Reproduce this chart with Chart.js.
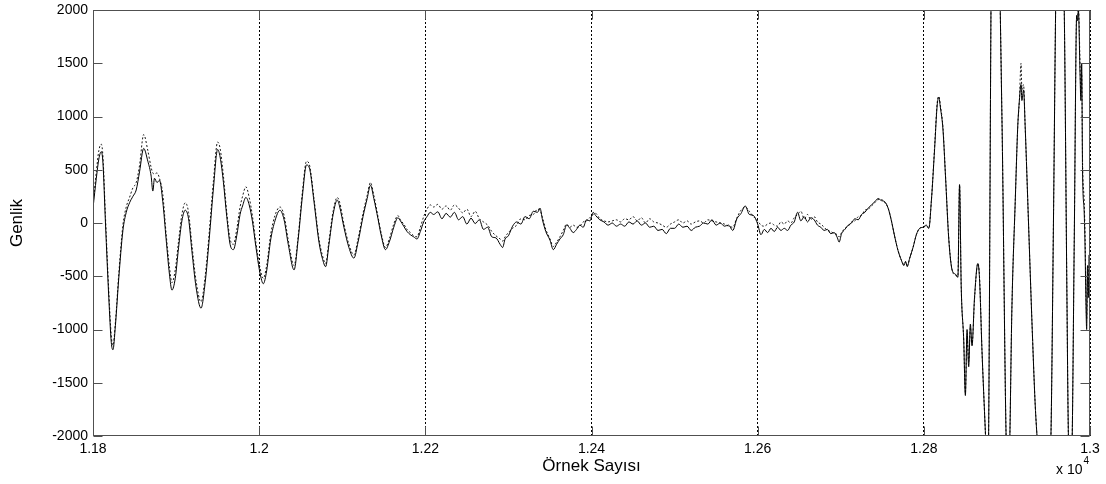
<!DOCTYPE html>
<html lang="tr">
<head>
<meta charset="utf-8">
<title>Genlik – Örnek Sayısı</title>
<script src="https://cdn.jsdelivr.net/npm/chart.js@4.4.1/dist/chart.umd.min.js"></script>
<style>
  html, body { margin: 0; padding: 0; background: #fff; }
  #wrap { width: 1106px; height: 484px; }
</style>
</head>
<body>
<div id="wrap"><canvas id="c" width="1106" height="484"></canvas></div>
<script>
// Sample positions (x axis) shared by both recordings
const samples = [
  11800, 11804, 11807, 11810, 11812, 11815, 11819, 11822, 11824, 11827,
  11831, 11836, 11840, 11844, 11848, 11852, 11856, 11861, 11866, 11870,
  11872, 11874, 11877, 11880, 11884, 11888, 11892, 11895, 11899, 11903,
  11907, 11911, 11915, 11919, 11924, 11930, 11935, 11940, 11945, 11950,
  11953, 11957, 11961, 11965, 11969, 11973, 11977, 11980, 11984, 11988,
  11992, 11996, 12001, 12005, 12009, 12014, 12019, 12025, 12030, 12035,
  12042, 12047, 12052, 12057, 12061, 12066, 12072, 12076, 12080, 12084,
  12089, 12094, 12097, 12102, 12108, 12114, 12119, 12125, 12130, 12134,
  12138, 12143, 12147, 12152, 12157, 12162, 12167, 12170, 12174, 12178,
  12182, 12186, 12190, 12194, 12198, 12202, 12206, 12210, 12215, 12220,
  12225, 12230, 12235, 12240, 12245, 12250, 12255, 12260, 12265, 12270,
  12275, 12280, 12285, 12290, 12293, 12296, 12300, 12305, 12310, 12315,
  12320, 12325, 12330, 12335, 12338, 12341, 12345, 12350, 12354, 12358,
  12362, 12366, 12370, 12374, 12378, 12382, 12386, 12390, 12394, 12398,
  12402, 12405, 12410, 12415, 12420, 12425, 12430, 12435, 12440, 12445,
  12450, 12455, 12460, 12465, 12470, 12475, 12480, 12485, 12490, 12495,
  12500, 12505, 12510, 12515, 12520, 12525, 12530, 12535, 12540, 12545,
  12550, 12555, 12560, 12565, 12570, 12575, 12580, 12585, 12590, 12595,
  12600, 12604, 12608, 12612, 12616, 12620, 12624, 12628, 12632, 12636,
  12640, 12644, 12648, 12652, 12656, 12660, 12664, 12668, 12672, 12676,
  12680, 12684, 12688, 12692, 12696, 12698, 12701, 12705, 12709, 12713,
  12717, 12721, 12725, 12729, 12733, 12737, 12741, 12745, 12749, 12753,
  12757, 12761, 12765, 12769, 12773, 12776, 12778, 12780, 12783, 12787,
  12791, 12795, 12799, 12803, 12806, 12809, 12813, 12816, 12818, 12820,
  12823, 12826, 12830, 12834, 12838, 12841, 12843, 12845, 12848, 12850,
  12852, 12854, 12856, 12858, 12861, 12865, 12867, 12870, 12874, 12877,
  12882, 12887, 12894, 12899, 12901, 12903, 12906, 12910, 12913, 12915,
  12917, 12918, 12920, 12922, 12926, 12930, 12934, 12937, 12942, 12948,
  12953, 12956, 12959, 12963, 12967, 12969, 12972, 12974, 12976, 12978,
  12981, 12984, 12985, 12986, 12988, 12989, 12990, 12991, 12993, 12994,
  12995, 12996, 12997, 12998, 12999, 13000
];

// Amplitude of the first recording (solid line)
const signalSolid = [
  140, 420, 600, 670, 560, 0, -700, -1120, -1190, -960,
  -520, -70, 100, 190, 250, 310, 480, 700, 580, 440,
  300, 420, 380, 400, 200, -150, -480, -630, -520, -230,
  20, 120, 40, -260, -600, -800, -560, -140, 330, 690,
  620, 380, 60, -200, -250, -120, 80, 160, 240, 170,
  10, -220, -470, -570, -450, -150, 20, 120, 30, -200,
  -440, -150, 250, 545, 500, 200, -180, -330, -410, -200,
  80, 215, 150, -40, -230, -330, -180, 60, 230, 355,
  230, 40, -120, -250, -170, -40, 50, 20, -30, -80,
  -110, -130, -150, -80, 10, 60, 100, 80, 105, 40,
  90, 55, 100, 30, 60, -10, 45, -5, 30, -60,
  -40, -130, -140, -200, -230, -150, -120, -30, 10, -10,
  60, 40, 110, 100, 140, 30, -80, -160, -250, -200,
  -150, -110, -20, -50, -90, -60, -20, -40, 30, 20,
  100, 70, 30, 10, -20, 0, -30, -10, -30, 10,
  -10, 20, -20, 0, -40, -30, -70, -60, -100, -50,
  -50, -10, -40, -30, -70, -40, -30, 0, -10, 30,
  -20, 0, -30, -20, -70, 40, 90, 160, 80, 70,
  -10, -110, -60, -90, -50, -80, -40, -70, -50, -70,
  -20, 10, 100, 20, 60, 10, 50, 30, -20, -40,
  -70, -60, -100, -90, -140, -180, -100, -60, -20, 0,
  40, 30, 80, 100, 140, 170, 200, 230, 210, 200,
  140, 20, -130, -260, -350, -400, -360, -410, -330, -230,
  -110, -50, -40, -20, -50, 200, 700, 1100, 1180, 1080,
  880, 450, -150, -440, -480, -510, 360, -600, -1100, -1620,
  -1000, -1350, -950, -1150, -700, -380, -520, -1200, -1950, -2500,
  3000, 3500, 1000, -2000, -2400, -2200, -800, 200, 900, 1150,
  1300, 1150, 1250, 900, 0, -900, -1700, -2100, -2800, -2700,
  -2000, 0, 2200, 3200, 2400, 2000, -500, -2000, -2300, -2200,
  -200, 1950, 1900, 2000, 1400, 1150, 1500, 500, 100, -200,
  -700, -1000, -400, -700, -300, -600
];

// Amplitude of the second recording (dashed line)
const signalDashed = [
  180, 480, 680, 740, 620, 60, -640, -1060, -1150, -930,
  -480, -20, 150, 240, 330, 380, 540, 830, 680, 520,
  470, 460, 470, 420, 270, -100, -410, -560, -440, -170,
  80, 190, 100, -200, -540, -740, -500, -80, 400, 760,
  700, 440, 100, -150, -200, -60, 150, 250, 340, 240,
  60, -180, -420, -520, -400, -100, 70, 150, 70, -160,
  -400, -120, 290, 580, 530, 230, -150, -300, -380, -170,
  110, 240, 190, -10, -200, -300, -150, 90, 260, 380,
  260, 60, -100, -230, -140, -10, 70, 30, -10, -60,
  -90, -120, -130, -40, 60, 130, 170, 150, 175, 130,
  160, 120, 170, 140, 95, 130, 60, 110, 40, 10,
  -20, -80, -120, -150, -170, -130, -90, -50, -20, 40,
  30, 70, 80, 130, 120, 50, -60, -150, -220, -180,
  -130, -70, -10, -40, -20, -40, -30, 10, 20, 50,
  80, 90, 40, 20, 10, 20, 30, 10, 40, 30,
  60, 20, 50, 0, 40, 10, 0, -20, -40, -10,
  10, 30, 0, 20, -10, 10, 20, 0, 30, 20,
  10, 0, -10, -30, -40, 50, 120, 150, 110, 60,
  20, -20, -30, -10, 0, -20, -30, 10, -10, 20,
  0, 50, 80, 110, 40, 80, 30, 60, 10, -10,
  -40, -70, -80, -100, -110, -130, -90, -50, -30, 10,
  20, 60, 70, 120, 130, 160, 190, 220, 220, 190,
  140, 20, -130, -260, -350, -390, -370, -400, -330, -230,
  -110, -50, -40, -30, -50, 200, 720, 1120, 1190, 1100,
  900, 460, -140, -440, -490, -500, 360, -600, -1100, -1600,
  -1050, -1300, -980, -1150, -720, -380, -500, -1200, -1950, -2500,
  3000, 3500, 1000, -2000, -2400, -2200, -800, 200, 900, 1150,
  1500, 1250, 1300, 900, 0, -900, -1700, -2100, -2800, -2700,
  -2000, 0, 2200, 3200, 2400, 2000, -500, -2000, -2300, -2200,
  -200, 1950, 1950, 2050, 1500, 1200, 1400, 600, 200, -100,
  -600, -900, -500, -600, -400, -500
];

// Axis ranges and tick spacing
const xRange = [11800, 13000];
const xStep = 200;
const yRange = [-2000, 2000];
const yStep = 500;
const xExponent = 4;

const FONT = '"Liberation Sans", Arial, Helvetica, sans-serif';

const toPoints = (ys) => samples.map((s, i) => ({ x: s, y: ys[i] }));

// White page, plot frame, inward ticks on all sides and the x-axis multiplier
const framePlugin = {
  id: 'frame',
  beforeDraw(chart) {
    const ctx = chart.ctx;
    ctx.save();
    ctx.fillStyle = '#ffffff';
    ctx.fillRect(0, 0, chart.width, chart.height);
    ctx.restore();
  },
  afterDraw(chart) {
    const { ctx, chartArea: a, scales } = chart;
    const x = scales.x, y = scales.y;
    const L = Math.round(a.left) + 0.5, R = Math.round(a.right) - 0.5;
    const T = Math.round(a.top) + 0.5, B = Math.round(a.bottom) - 0.5;
    const tl = 9;
    ctx.save();
    ctx.strokeStyle = '#505050';
    ctx.lineWidth = 1;
    ctx.setLineDash([]);
    ctx.beginPath();
    y.ticks.forEach(t => {
      const py = Math.round(y.getPixelForValue(t.value)) + 0.5;
      ctx.moveTo(L, py); ctx.lineTo(L + tl, py);
      ctx.moveTo(R, py); ctx.lineTo(R - tl, py);
    });
    x.ticks.forEach(t => {
      const px = Math.round(x.getPixelForValue(t.value)) + 0.5;
      ctx.moveTo(px, B); ctx.lineTo(px, B - tl);
      ctx.moveTo(px, T); ctx.lineTo(px, T + tl);
    });
    ctx.stroke();
    ctx.strokeRect(L, T, R - L, B - T);

    ctx.fillStyle = '#000';
    ctx.textBaseline = 'alphabetic';
    ctx.font = '14px ' + FONT;
    ctx.textAlign = 'right';
    ctx.fillText('x 10', R - 7, 474);
    ctx.font = '10px ' + FONT;
    ctx.textAlign = 'left';
    ctx.fillText(String(xExponent), R - 6, 464);
    ctx.restore();
  }
};

new Chart(document.getElementById('c'), {
  type: 'line',
  data: {
    datasets: [
      {
        label: 'Kayıt 1',
        data: toPoints(signalSolid),
        borderColor: '#000000',
        borderWidth: 1,
        pointRadius: 0,
        cubicInterpolationMode: 'monotone',
        order: 0
      },
      {
        label: 'Kayıt 2',
        data: toPoints(signalDashed),
        borderColor: '#1a1a1a',
        borderWidth: 1,
        borderDash: [2, 2],
        pointRadius: 0,
        cubicInterpolationMode: 'monotone',
        order: 1
      }
    ]
  },
  options: {
    responsive: false,
    animation: false,
    layout: { padding: { top: 10, right: 16, left: 0, bottom: 0 } },
    plugins: {
      legend: { display: false },
      tooltip: { enabled: false }
    },
    scales: {
      x: {
        type: 'linear',
        min: xRange[0],
        max: xRange[1],
        afterFit(s) { s.height = 48; s.paddingLeft = 0; s.paddingRight = 0; },
        grid: {
          display: true,
          color: '#000000',
          lineWidth: 1,
          drawTicks: false
        },
        border: { display: false, dash: [2, 2] },
        ticks: {
          stepSize: xStep,
          autoSkip: false,
          maxRotation: 0,
          padding: 5,
          color: '#000',
          font: { family: FONT, size: 14 },
          callback: v => String(+(v / Math.pow(10, xExponent)).toFixed(2))
        },
        title: {
          display: true,
          text: 'Örnek Sayısı',
          color: '#000',
          font: { family: FONT, size: 17 },
          padding: { top: 0, bottom: 7 }
        }
      },
      y: {
        type: 'linear',
        min: yRange[0],
        max: yRange[1],
        afterFit(s) { s.width = 93; s.paddingTop = 0; s.paddingBottom = 0; },
        grid: { display: false, drawTicks: false },
        border: { display: false },
        ticks: {
          stepSize: yStep,
          padding: 5,
          color: '#000',
          font: { family: FONT, size: 14 },
          callback: v => String(v)
        },
        title: {
          display: true,
          text: 'Genlik',
          color: '#000',
          font: { family: FONT, size: 17 },
          padding: { top: 7, bottom: 0 }
        }
      }
    }
  },
  plugins: [framePlugin]
});
</script>
</body>
</html>
